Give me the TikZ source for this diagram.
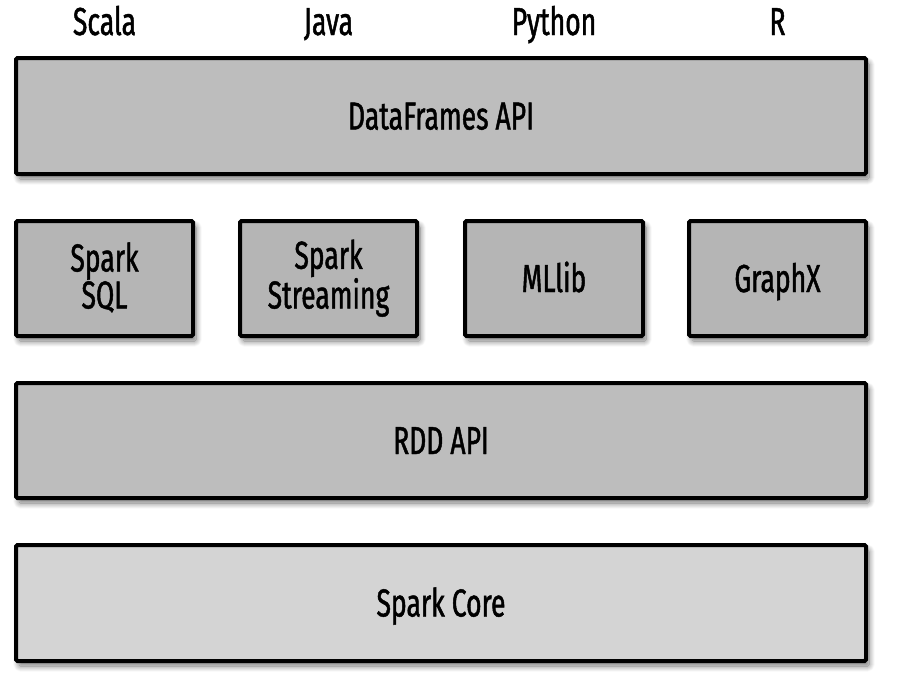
\documentclass[tikz,border=0pt]{standalone}
\usepackage{fontspec}
\setmainfont{Fira Sans}[FakeStretch=0.68,FakeBold=1.2]
\usetikzlibrary{shadows.blur}
\definecolor{boxgray}{RGB}{189,189,189}
\definecolor{modgray}{RGB}{181,181,181}
\definecolor{coregray}{RGB}{212,212,212}
\tikzset{
  layer/.style={draw=black, line width=4pt, rounded corners=1.5pt, inner sep=0pt,
    align=center, font=\fontsize{39}{37}\selectfont, text height=27pt, text depth=0pt,
    blur shadow={shadow xshift=3pt, shadow yshift=-5pt, shadow blur steps=12, shadow blur radius=6pt, shadow opacity=55}},
  twoline/.style={text height=60pt, text depth=0pt},
  lang/.style={font=\fontsize{39}{37}\selectfont, inner sep=0pt, anchor=base},
}
\begin{document}
\begin{tikzpicture}[x=1pt,y=-1pt]
\useasboundingbox (0,0) rectangle (897,691);
\node[lang] (scala) at (104.5,35) {Scala};
\node[lang] (java) at (328.5,35) {Java};
\node[lang] (python) at (554,35) {Python};
\node[lang] (r) at (777.5,35) {R};
\node[layer, fill=boxgray, minimum width=850pt, minimum height=116pt] (df) at (441,116) {DataFrames API};
\node[layer, twoline, fill=modgray, minimum width=177pt, minimum height=115pt] (sql) at (104.5,278.5) {Spark\\SQL};
\node[layer, twoline, fill=modgray, minimum width=177pt, minimum height=115pt] (stream) at (328.5,278.5) {Spark\\Streaming};
\node[layer, fill=modgray, minimum width=178pt, minimum height=115pt] (mllib) at (554,278.5) {MLlib};
\node[layer, fill=modgray, minimum width=177pt, minimum height=115pt] (graphx) at (777.5,278.5) {GraphX};
\node[layer, fill=boxgray, minimum width=850pt, minimum height=115pt] (rdd) at (441,440.5) {RDD API};
\node[layer, fill=coregray, minimum width=850pt, minimum height=116pt] (core) at (441,603) {Spark Core};
\end{tikzpicture}
\end{document}
